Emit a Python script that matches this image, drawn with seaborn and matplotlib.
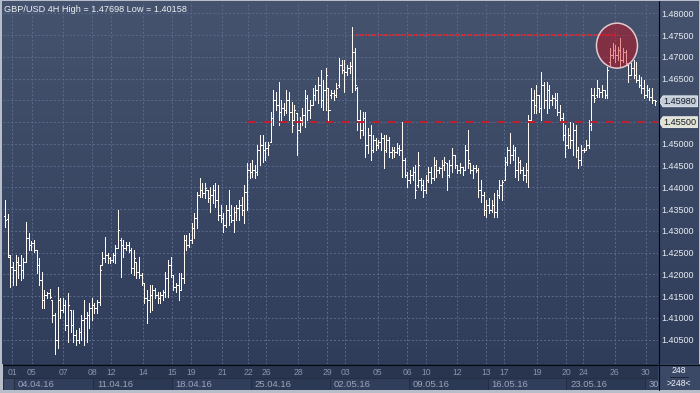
import numpy as np
import pandas as pd
import matplotlib
matplotlib.use("Agg")
import matplotlib.pyplot as plt
from matplotlib.colors import LinearSegmentedColormap
from matplotlib.patches import Ellipse, Polygon, Rectangle
from matplotlib.lines import Line2D
import seaborn as sns

# ---------------- data (GBP/USD 4H bars) ----------------
opens = [
    1.4334, 1.4327, 1.4240, 1.4217, 1.4210, 1.4228, 1.4221, 1.4210, 1.4228, 1.4284,
    1.4267, 1.4272, 1.4256, 1.4221, 1.4187, 1.4141, 1.4152, 1.4157, 1.4141, 1.4106,
    1.4049, 1.4141, 1.4118, 1.4129, 1.4083, 1.4118, 1.4083, 1.4060, 1.4049, 1.4067,
    1.4095, 1.4100, 1.4106, 1.4123, 1.4129, 1.4123, 1.4136, 1.4221, 1.4238, 1.4244,
    1.4238, 1.4233, 1.4244, 1.4261, 1.4279, 1.4267, 1.4261, 1.4267, 1.4256, 1.4215,
    1.4228, 1.4205, 1.4198, 1.4180, 1.4146, 1.4141, 1.4152, 1.4164, 1.4152, 1.4146,
    1.4152, 1.4159, 1.4192, 1.4221, 1.4198, 1.4171, 1.4175, 1.4164, 1.4192, 1.4279,
    1.4267, 1.4279, 1.4307, 1.4330, 1.4382, 1.4394, 1.4387, 1.4394, 1.4376, 1.4382,
    1.4394, 1.4371, 1.4336, 1.4330, 1.4313, 1.4348, 1.4336, 1.4325, 1.4343, 1.4353,
    1.4359, 1.4348, 1.4389, 1.4440, 1.4435, 1.4440, 1.4435, 1.4486, 1.4497, 1.4486,
    1.4491, 1.4504, 1.4560, 1.4601, 1.4589, 1.4573, 1.4583, 1.4578, 1.4601, 1.4573,
    1.4555, 1.4571, 1.4532, 1.4555, 1.4566, 1.4606, 1.4578, 1.4589, 1.4612, 1.4624,
    1.4635, 1.4601, 1.4624, 1.4629, 1.4612, 1.4617, 1.4612, 1.4635, 1.4681, 1.4670,
    1.4665, 1.4675, 1.4679, 1.4711, 1.4629, 1.4555, 1.4532, 1.4560, 1.4497, 1.4520,
    1.4486, 1.4509, 1.4497, 1.4504, 1.4514, 1.4486, 1.4509, 1.4481, 1.4486, 1.4481,
    1.4491, 1.4486, 1.4463, 1.4428, 1.4417, 1.4428, 1.4435, 1.4405, 1.4417, 1.4405,
    1.4394, 1.4417, 1.4435, 1.4422, 1.4451, 1.4440, 1.4445, 1.4451, 1.4456, 1.4428,
    1.4451, 1.4474, 1.4451, 1.4440, 1.4447, 1.4440, 1.4486, 1.4456, 1.4440, 1.4445,
    1.4440, 1.4394, 1.4382, 1.4348, 1.4359, 1.4348, 1.4359, 1.4343, 1.4382, 1.4405,
    1.4417, 1.4458, 1.4486, 1.4474, 1.4486, 1.4440, 1.4458, 1.4440, 1.4428, 1.4440,
    1.4555, 1.4601, 1.4589, 1.4612, 1.4583, 1.4635, 1.4601, 1.4624, 1.4601, 1.4606,
    1.4601, 1.4573, 1.4560, 1.4520, 1.4497, 1.4520, 1.4509, 1.4532, 1.4486, 1.4463,
    1.4486, 1.4486, 1.4497, 1.4543, 1.4612, 1.4612, 1.4629, 1.4619, 1.4624, 1.4612,
    1.4688, 1.4704, 1.4716, 1.4704, 1.4716, 1.4693, 1.4711, 1.4681, 1.4658, 1.4675,
    1.4658, 1.4647, 1.4635, 1.4629, 1.4612, 1.4624, 1.4608, 1.4601,
]
highs = [
    1.4371, 1.4339, 1.4244, 1.4228, 1.4244, 1.4240, 1.4244, 1.4238, 1.4320, 1.4295,
    1.4277, 1.4279, 1.4256, 1.4238, 1.4205, 1.4164, 1.4159, 1.4166, 1.4141, 1.4111,
    1.4171, 1.4146, 1.4146, 1.4141, 1.4157, 1.4118, 1.4118, 1.4072, 1.4077, 1.4106,
    1.4141, 1.4113, 1.4134, 1.4146, 1.4134, 1.4141, 1.4221, 1.4251, 1.4286, 1.4249,
    1.4240, 1.4249, 1.4267, 1.4348, 1.4284, 1.4279, 1.4274, 1.4274, 1.4261, 1.4256,
    1.4228, 1.4240, 1.4203, 1.4180, 1.4164, 1.4175, 1.4175, 1.4169, 1.4159, 1.4159,
    1.4164, 1.4205, 1.4233, 1.4240, 1.4198, 1.4180, 1.4203, 1.4203, 1.4290, 1.4290,
    1.4295, 1.4318, 1.4341, 1.4389, 1.4422, 1.4410, 1.4410, 1.4394, 1.4401, 1.4405,
    1.4410, 1.4405, 1.4359, 1.4341, 1.4359, 1.4394, 1.4359, 1.4355, 1.4359, 1.4371,
    1.4378, 1.4405, 1.4456, 1.4456, 1.4463, 1.4451, 1.4497, 1.4520, 1.4520, 1.4504,
    1.4504, 1.4573, 1.4624, 1.4619, 1.4642, 1.4601, 1.4594, 1.4624, 1.4619, 1.4596,
    1.4589, 1.4571, 1.4562, 1.4583, 1.4624, 1.4612, 1.4601, 1.4629, 1.4635, 1.4654,
    1.4670, 1.4647, 1.4675, 1.4629, 1.4624, 1.4624, 1.4640, 1.4698, 1.4693, 1.4693,
    1.4681, 1.4688, 1.47698, 1.4721, 1.4631, 1.4578, 1.4573, 1.4573, 1.4537, 1.4543,
    1.4520, 1.4514, 1.4509, 1.4525, 1.4520, 1.4520, 1.4516, 1.4493, 1.4493, 1.4502,
    1.4497, 1.4550, 1.4468, 1.4435, 1.4440, 1.4447, 1.4451, 1.4481, 1.4422, 1.4417,
    1.4428, 1.4447, 1.4447, 1.4470, 1.4463, 1.4447, 1.4463, 1.4470, 1.4456, 1.4463,
    1.4491, 1.4474, 1.4451, 1.4456, 1.4447, 1.4497, 1.4532, 1.4456, 1.4451, 1.4451,
    1.4445, 1.4417, 1.4389, 1.4371, 1.4376, 1.4371, 1.4387, 1.4394, 1.4417, 1.4417,
    1.4470, 1.4493, 1.4525, 1.4497, 1.4493, 1.4470, 1.4463, 1.4447, 1.4456, 1.4566,
    1.4629, 1.4624, 1.4635, 1.4612, 1.4665, 1.4642, 1.4642, 1.4635, 1.4612, 1.4617,
    1.4617, 1.4589, 1.4571, 1.4543, 1.4537, 1.4550, 1.4548, 1.4543, 1.4493, 1.4497,
    1.4491, 1.4509, 1.4555, 1.4629, 1.4629, 1.4647, 1.4629, 1.4635, 1.4624, 1.4677,
    1.4721, 1.4732, 1.4727, 1.4723, 1.4744, 1.4721, 1.4716, 1.4681, 1.4686, 1.4693,
    1.4688, 1.4658, 1.4654, 1.4647, 1.4635, 1.4629, 1.4629, 1.4601,
]
lows = [
    1.4309, 1.4240, 1.4171, 1.4175, 1.4175, 1.4192, 1.4187, 1.4192, 1.4228, 1.4256,
    1.4256, 1.4251, 1.4203, 1.4175, 1.4123, 1.4123, 1.4146, 1.4146, 1.4090, 1.40158,
    1.4031, 1.4100, 1.4113, 1.4072, 1.4044, 1.4067, 1.4044, 1.4037, 1.4042, 1.4049,
    1.4037, 1.4044, 1.4077, 1.4095, 1.4111, 1.4111, 1.4129, 1.4221, 1.4228, 1.4226,
    1.4226, 1.4228, 1.4226, 1.4261, 1.4194, 1.4240, 1.4256, 1.4251, 1.4203, 1.4198,
    1.4192, 1.4192, 1.4175, 1.4134, 1.4088, 1.4113, 1.4118, 1.4146, 1.4134, 1.4134,
    1.4141, 1.4148, 1.4148, 1.4194, 1.4164, 1.4159, 1.4141, 1.4164, 1.4180, 1.4256,
    1.4263, 1.4272, 1.4284, 1.4307, 1.4378, 1.4378, 1.4376, 1.4366, 1.4343, 1.4364,
    1.4355, 1.4325, 1.4320, 1.4297, 1.4309, 1.4313, 1.4320, 1.4297, 1.4325, 1.4325,
    1.4336, 1.4318, 1.4348, 1.4422, 1.4424, 1.4422, 1.4428, 1.4451, 1.4458, 1.4463,
    1.4474, 1.4504, 1.4543, 1.4578, 1.4543, 1.4555, 1.4566, 1.4571, 1.4555, 1.4527,
    1.4555, 1.4474, 1.4527, 1.4543, 1.4539, 1.4555, 1.4560, 1.4589, 1.4601, 1.4594,
    1.4585, 1.4578, 1.4578, 1.4550, 1.4606, 1.4601, 1.4608, 1.4631, 1.4663, 1.4619,
    1.4658, 1.4663, 1.4619, 1.4624, 1.4532, 1.4514, 1.4520, 1.4470, 1.4479, 1.4463,
    1.4481, 1.4486, 1.4491, 1.4486, 1.4445, 1.4481, 1.4470, 1.4468, 1.4470, 1.4479,
    1.4474, 1.4424, 1.4424, 1.4401, 1.4410, 1.4417, 1.4376, 1.4401, 1.4394, 1.4378,
    1.4387, 1.4412, 1.4410, 1.4417, 1.4424, 1.4433, 1.4424, 1.4440, 1.4394, 1.4424,
    1.4435, 1.4445, 1.4433, 1.4433, 1.4428, 1.4440, 1.4445, 1.4433, 1.4422, 1.4435,
    1.4378, 1.4366, 1.4336, 1.4332, 1.4341, 1.4343, 1.4332, 1.4332, 1.4376, 1.4371,
    1.4417, 1.4451, 1.4456, 1.4463, 1.4424, 1.4417, 1.4433, 1.4417, 1.4412, 1.4401,
    1.4555, 1.4571, 1.4571, 1.4573, 1.4555, 1.4583, 1.4571, 1.4583, 1.4589, 1.4583,
    1.4566, 1.4550, 1.4509, 1.4470, 1.4491, 1.4491, 1.4474, 1.4470, 1.4445, 1.4451,
    1.4481, 1.4486, 1.4491, 1.4532, 1.4596, 1.4608, 1.4608, 1.4608, 1.4606, 1.4606,
    1.4681, 1.4698, 1.4688, 1.4693, 1.4677, 1.4688, 1.4681, 1.4642, 1.4658, 1.4652,
    1.4642, 1.4631, 1.4617, 1.4606, 1.4608, 1.4601, 1.4594, 1.4589,
]
closes = [
    1.4325, 1.4244, 1.4217, 1.4210, 1.4228, 1.4221, 1.4210, 1.4228, 1.4284, 1.4267,
    1.4272, 1.4256, 1.4221, 1.4187, 1.4141, 1.4152, 1.4157, 1.4148, 1.4106, 1.4049,
    1.4141, 1.4118, 1.4129, 1.4083, 1.4129, 1.4083, 1.4060, 1.4049, 1.4067, 1.4095,
    1.4100, 1.4106, 1.4123, 1.4129, 1.4123, 1.4136, 1.4210, 1.4238, 1.4244, 1.4238,
    1.4233, 1.4244, 1.4261, 1.4302, 1.4267, 1.4261, 1.4267, 1.4256, 1.4215, 1.4238,
    1.4205, 1.4198, 1.4180, 1.4146, 1.4141, 1.4152, 1.4164, 1.4152, 1.4146, 1.4152,
    1.4159, 1.4192, 1.4221, 1.4198, 1.4171, 1.4175, 1.4164, 1.4192, 1.4279, 1.4267,
    1.4279, 1.4307, 1.4330, 1.4382, 1.4394, 1.4387, 1.4399, 1.4376, 1.4382, 1.4394,
    1.4371, 1.4336, 1.4330, 1.4313, 1.4348, 1.4336, 1.4325, 1.4343, 1.4353, 1.4359,
    1.4348, 1.4389, 1.4440, 1.4435, 1.4440, 1.4435, 1.4486, 1.4497, 1.4486, 1.4491,
    1.4497, 1.4560, 1.4601, 1.4589, 1.4573, 1.4583, 1.4578, 1.4601, 1.4573, 1.4543,
    1.4578, 1.4532, 1.4555, 1.4566, 1.4606, 1.4578, 1.4589, 1.4612, 1.4624, 1.4635,
    1.4601, 1.4624, 1.4658, 1.4578, 1.4617, 1.4612, 1.4629, 1.4681, 1.4670, 1.4665,
    1.4675, 1.4679, 1.4711, 1.4635, 1.4555, 1.4532, 1.4560, 1.4497, 1.4520, 1.4486,
    1.4509, 1.4497, 1.4504, 1.4514, 1.4486, 1.4509, 1.4481, 1.4486, 1.4481, 1.4491,
    1.4486, 1.4463, 1.4428, 1.4417, 1.4428, 1.4435, 1.4394, 1.4451, 1.4405, 1.4394,
    1.4417, 1.4435, 1.4422, 1.4451, 1.4440, 1.4445, 1.4451, 1.4458, 1.4428, 1.4451,
    1.4474, 1.4451, 1.4440, 1.4447, 1.4440, 1.4486, 1.4463, 1.4440, 1.4445, 1.4440,
    1.4394, 1.4382, 1.4348, 1.4359, 1.4348, 1.4359, 1.4343, 1.4382, 1.4405, 1.4412,
    1.4458, 1.4486, 1.4474, 1.4486, 1.4440, 1.4458, 1.4440, 1.4428, 1.4440, 1.4555,
    1.4601, 1.4589, 1.4612, 1.4583, 1.4635, 1.4601, 1.4624, 1.4601, 1.4606, 1.4601,
    1.4573, 1.4560, 1.4520, 1.4497, 1.4520, 1.4509, 1.4532, 1.4486, 1.4463, 1.4486,
    1.4486, 1.4497, 1.4543, 1.4612, 1.4606, 1.4629, 1.4619, 1.4624, 1.4612, 1.4670,
    1.4704, 1.4716, 1.4704, 1.4716, 1.4693, 1.4711, 1.4686, 1.4658, 1.4675, 1.4658,
    1.4647, 1.4635, 1.4629, 1.4612, 1.4624, 1.4608, 1.4601, 1.4598,
]

day_tick_pos = [2.85, 10.1, 22.05, 33.1, 40.3, 52.5, 63.5, 70.7, 82.5, 92.4, 99.2, 111.4,
                122.4, 129.3, 141.8, 152.9, 160.1, 171.9, 182.9, 189.7, 202.3, 213.3,
                219.8, 231.9, 243.7]
day_tick_labels = ["01", "05", "07", "08", "12", "14", "15", "19", "21", "22", "26", "28",
                   "29", "03", "05", "06", "10", "12", "13", "17", "19", "20", "24", "26", "30"]
week_start_pos = [3.5, 33.5, 63.5, 93.5, 123.5, 153.5, 183.5, 213.5, 243.5]
week_labels = ["04.04.16", "11.04.16", "18.04.16", "25.04.16", "02.05.16",
               "09.05.16", "16.05.16", "23.05.16", "30.05.16"]
price_ticks = [1.405, 1.410, 1.415, 1.420, 1.425, 1.430, 1.435, 1.440,
               1.445, 1.450, 1.455, 1.460, 1.465, 1.470, 1.475, 1.480]
last_price = 1.45980
support_level = 1.45500
resistance_level = 1.47500
resistance_from_bar = 133.5
resistance_to_bar = 233.0
support_from_bar = 92.4
circle_bar = 232.7
circle_price = 1.4726
bar_count_text = "248"
symbol_text = "GBP/USD 4H"

# ---------------- styling / layout ----------------
sns.set_theme(style="dark")
plt.rcParams["font.family"] = ["Liberation Sans", "DejaVu Sans"]

W, H = 700, 393
fig = plt.figure(figsize=(W / 100, H / 100), dpi=100)
fig.patch.set_facecolor("#b7bec9")


def px_axes(x0, y0, x1, y1):
    return fig.add_axes([x0 / W, 1 - y1 / H, (x1 - x0) / W, (y1 - y0) / H])


# gradient background for plot + price scale
axg = px_axes(2, 1, 699, 364)
grad = np.linspace(0, 1, 256).reshape(-1, 1)
cmap = LinearSegmentedColormap.from_list("bg", ["#45536e", "#2f3d5b"])
axg.imshow(grad, aspect="auto", cmap=cmap, extent=[0, 1, 0, 1], origin="upper")
axg.set_axis_off()

x_left, x_right = -0.76, 248.3
y_bottom, y_top = 1.39938, 1.48264

ax = px_axes(3, 2, 658, 364)
ax.set_facecolor("none")
ax.set_axisbelow(True)

# long-form frame: one unit per drawn segment (high-low, open tick, close tick)
rows = []
for i, (o, h, l, c) in enumerate(zip(opens, highs, lows, closes)):
    rows += [(i, h, 3 * i), (i, l, 3 * i),
             (i - 0.42, o, 3 * i + 1), (i, o, 3 * i + 1),
             (i, c, 3 * i + 2), (i + 0.42, c, 3 * i + 2)]
df = pd.DataFrame(rows, columns=["bar", "price", "seg"])
sns.lineplot(data=df, x="bar", y="price", units="seg", estimator=None, sort=False,
             color="#fffaf4", linewidth=0.7, legend=False, ax=ax,
             antialiased=False, solid_capstyle="butt", zorder=3)

ax.set_xlim(x_left, x_right)
ax.set_ylim(y_bottom, y_top)
ax.set_xlabel("")
ax.set_ylabel("")
ax.set_xticks(day_tick_pos)
ax.set_yticks(price_ticks)
ax.grid(True, color="#5a6a8c", linestyle=(0, (2, 2)), linewidth=0.7)
ax.tick_params(axis="x", length=0, labelbottom=False)
ax.yaxis.tick_right()
ax.tick_params(axis="y", length=0, pad=2.5, labelsize=6.5, labelcolor="#e9edf3",
               labelright=True, labelleft=False)
ax.set_yticklabels(["" if round(v, 3) in (round(last_price, 3), support_level) else f"{v:.5f}"
                    for v in price_ticks])
for s in ax.spines.values():
    s.set_visible(False)

# support / resistance lines
ax.plot([resistance_from_bar, resistance_to_bar], [resistance_level] * 2,
        color="#c8303c", linewidth=1.3, linestyle=(0, (1.0, 0.9)), zorder=4,
        antialiased=False)
ax.plot([support_from_bar, x_right], [support_level] * 2,
        color="#c21f2c", linewidth=1.4, linestyle=(0, (4, 4)), zorder=4)

# highlight circle
ax.add_patch(Ellipse((circle_bar, circle_price), width=15.6, height=0.01035,
                     facecolor=(0.85, 0.02, 0.06, 0.42), edgecolor="#e3c9cf",
                     linewidth=1.1, zorder=5))

# title
hi, lo = max(highs), min(lows)
fig.text(4 / W, 1 - 9.5 / H, f"{symbol_text} High = {hi:.5f} Low = {lo:.5f}",
         fontsize=6.6, color="#eef1f5", va="center", ha="left")

# price tags on the right scale
axr = px_axes(658, 2, 700, 364)
axr.set_xlim(0, 42)
axr.set_ylim(y_bottom, y_top)
axr.set_axis_off()


def tag(y, text, fc):
    h = 0.0025
    axr.add_patch(Polygon([(1.2, y), (5.0, y + h / 2), (39.5, y + h / 2),
                           (39.5, y - h / 2), (5.0, y - h / 2)], closed=True,
                          facecolor=fc, edgecolor="#f2f4f8", linewidth=0.6))
    axr.text(5.6, y, text, fontsize=6.6, color="#141c2c", va="center", ha="left")


tag(last_price, f"{last_price:.5f}", "#c5cdd9")
tag(support_level, f"{support_level:.5f}", "#e3e3d3")

# bottom time scale
axb = px_axes(3, 364, 658, 390)
axb.set_xlim(x_left, x_right)
axb.set_ylim(0, 1)
axb.set_facecolor("#29354f")
axb.set_xticks([])
axb.set_yticks([])
for s in axb.spines.values():
    s.set_visible(False)
axb.add_patch(Rectangle((x_left, 0.0), week_start_pos[0] - x_left, 0.47,
                        facecolor="#3a4865", edgecolor="#222c42", linewidth=0.6))
for k, (ws, wl) in enumerate(zip(week_start_pos, week_labels)):
    axb.add_patch(Rectangle((ws, 0.0), 30, 0.47,
                            facecolor="#313e5b" if k % 2 == 0 else "#2c3954",
                            edgecolor="#222c42", linewidth=0.6))
    # the last week box is cut by the price scale: only its first characters show
    shown = wl if ws + 30 <= x_right else wl[:2]
    axb.text(ws + 1.4, 0.23, shown, fontsize=6.8, color="#9aa4b9", va="center",
             ha="left", clip_on=True)
for p, lab in zip(day_tick_pos, day_tick_labels):
    axb.text(p, 0.68, lab, fontsize=6.2, color="#8893aa", va="center", ha="center")

# bar-count box
axc = px_axes(658, 364, 700, 390)
axc.set_xlim(0, 1)
axc.set_ylim(0, 1)
axc.set_facecolor("#3b4967")
axc.set_xticks([])
axc.set_yticks([])
for s in axc.spines.values():
    s.set_visible(False)
axc.text(0.5, 0.74, bar_count_text, fontsize=6.2, color="#f2f4f8", ha="center", va="center")
axc.plot([0.28, 0.72], [0.5, 0.5], color="#1d2538", linewidth=0.7)
axc.text(0.5, 0.24, f">{bar_count_text}<", fontsize=6.2, color="#f2f4f8",
         ha="center", va="center")

# separators
fig.add_artist(Line2D([658.5 / W] * 2, [1 - 1 / H, 1 - 390 / H], color="#05080f", linewidth=0.8))
fig.add_artist(Line2D([3 / W, 699 / W], [1 - 364.5 / H] * 2, color="#05080f", linewidth=0.8))

fig.savefig("out.png", dpi=100, facecolor=fig.get_facecolor())
